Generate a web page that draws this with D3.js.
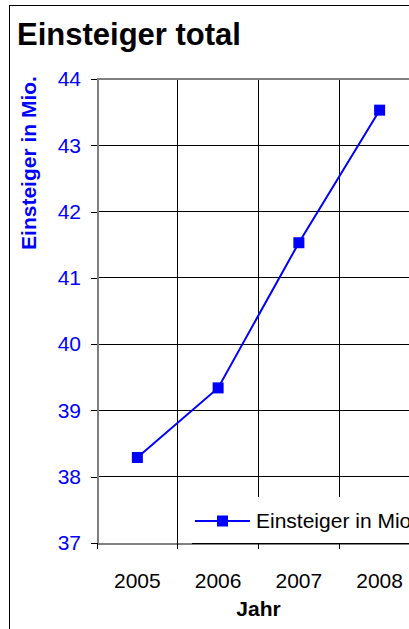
<!DOCTYPE html>
<meta charset="utf-8">
<style>
html, body {
  margin: 0;
  background: #fff;
}

.chart {
  display: block;
  font-family: "Liberation Sans", Arial, sans-serif;
}

.chart .grid line {
  stroke: #000;
  stroke-width: 1;
  shape-rendering: crispEdges;
}

.chart .axis path {
  stroke: #808080;
  stroke-width: 2;
  fill: none;
  shape-rendering: crispEdges;
}

.chart .axis line {
  stroke: #000;
  shape-rendering: crispEdges;
}

.chart .axis text {
  font-family: "Liberation Sans", Arial, sans-serif;
  font-size: 21px;
}

.chart .axis--y text {
  fill: #0000ff;
}
</style>
<body>
<svg class="chart js-chart" width="409" height="629"></svg>

<script src="https://d3js.org/d3.v7.min.js"></script>
<script>
"use strict";

// data
var years = ["2005", "2006", "2007", "2008"];
var einsteiger = [38.29, 39.34, 41.53, 43.53];
var yTicks = [37, 38, 39, 40, 41, 42, 43, 44];

var seriesName = "Einsteiger in Mio";
var title = "Einsteiger total";
var yTitle = "Einsteiger in Mio.";
var xTitle = "Jahr";

var svg = d3.select(".js-chart");

var plot = { left: 97, top: 79, right: 420, bottom: 543 };

var x = d3.scaleBand()
  .domain(years)
  .range([plot.left, plot.right]);

var y = d3.scaleLinear()
  .domain([d3.min(yTicks), d3.max(yTicks)])
  .range([plot.bottom, plot.top]);

// outer frame
svg.append("rect")
  .attr("x", 9.5)
  .attr("y", 5.5)
  .attr("width", 440)
  .attr("height", 660)
  .attr("fill", "#fff")
  .attr("stroke", "#000");

svg.append("text")
  .attr("x", 17)
  .attr("y", 45)
  .attr("font-size", 31)
  .attr("font-weight", "bold")
  .text(title);

// grid
var grid = svg.append("g").attr("class", "grid");

grid.selectAll(".h").data(yTicks.slice(1))
  .enter().append("line")
    .attr("class", "h")
    .attr("x1", plot.left)
    .attr("x2", plot.right)
    .attr("y1", function (d) { return y(d); })
    .attr("y2", function (d) { return y(d); });

grid.selectAll(".v").data(years.slice(1))
  .enter().append("line")
    .attr("class", "v")
    .attr("x1", function (d) { return x(d); })
    .attr("x2", function (d) { return x(d); })
    .attr("y1", plot.top)
    .attr("y2", plot.bottom);

// plot area top border (grey)
svg.append("line")
  .attr("x1", plot.left)
  .attr("x2", plot.right)
  .attr("y1", plot.top)
  .attr("y2", plot.top)
  .attr("stroke", "#808080")
  .attr("stroke-width", 2);

// axes
svg.append("g")
  .attr("class", "axis axis--y")
  .attr("transform", "translate(" + plot.left + ",0)")
  .call(d3.axisLeft(y).tickValues(yTicks).tickFormat(d3.format("d"))
    .tickSize(6).tickSizeOuter(0).tickPadding(10));

var xAxis = svg.append("g")
  .attr("class", "axis axis--x")
  .attr("transform", "translate(0," + plot.bottom + ")")
  .call(d3.axisBottom(x).tickSize(0).tickSizeOuter(0).tickPadding(30));

xAxis.selectAll(".edge").data(years)
  .enter().append("line")
    .attr("class", "edge")
    .attr("x1", function (d) { return x(d); })
    .attr("x2", function (d) { return x(d); })
    .attr("y1", 0)
    .attr("y2", 6);

// axis titles
svg.append("text")
  .attr("transform", "translate(36," + 163 + ") rotate(-90)")
  .attr("text-anchor", "middle")
  .attr("font-size", 21)
  .attr("font-weight", "bold")
  .attr("fill", "#0000ff")
  .text(yTitle);

svg.append("text")
  .attr("x", x("2007"))
  .attr("y", 616)
  .attr("text-anchor", "middle")
  .attr("font-size", 21)
  .attr("font-weight", "bold")
  .text(xTitle);

// series
var line = d3.line()
  .x(function (d, i) { return x(years[i]) + x.bandwidth() / 2; })
  .y(function (d) { return y(d); });

svg.append("path")
  .datum(einsteiger)
  .attr("d", line)
  .attr("fill", "none")
  .attr("stroke", "#0000ff")
  .attr("stroke-width", 2);

svg.selectAll(".point").data(einsteiger)
  .enter().append("rect")
    .attr("class", "point")
    .attr("x", function (d, i) { return x(years[i]) + x.bandwidth() / 2 - 5.5; })
    .attr("y", function (d) { return y(d) - 5.5; })
    .attr("width", 11)
    .attr("height", 11)
    .attr("fill", "#0000ff");

// legend
var legend = svg.append("g")
  .attr("transform", "translate(192,497)");

legend.append("rect")
  .attr("width", 240)
  .attr("height", 46)
  .attr("fill", "#fff");

legend.append("line")
  .attr("x1", 0).attr("x2", 240)
  .attr("y1", 46.5).attr("y2", 46.5)
  .attr("stroke", "#000");

legend.append("line")
  .attr("x1", 3).attr("x2", 58)
  .attr("y1", 24).attr("y2", 24)
  .attr("stroke", "#0000ff")
  .attr("stroke-width", 2);

legend.append("rect")
  .attr("x", 25).attr("y", 18.5)
  .attr("width", 11).attr("height", 11)
  .attr("fill", "#0000ff");

legend.append("text")
  .attr("x", 64)
  .attr("y", 31)
  .attr("font-size", 21)
  .text(seriesName);
</script>
</body>
